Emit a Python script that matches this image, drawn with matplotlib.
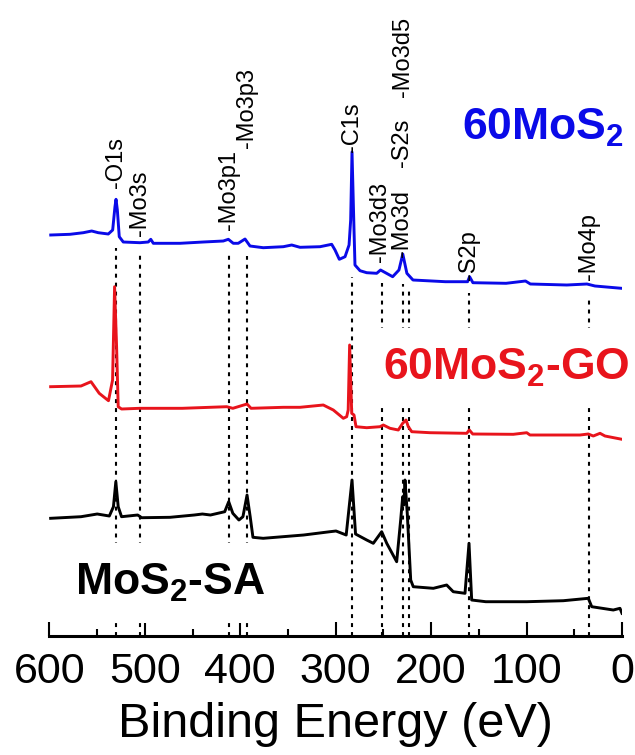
import numpy as np
import matplotlib
matplotlib.use("Agg")
import matplotlib.pyplot as plt
from matplotlib.ticker import MultipleLocator

plt.rcParams['font.family'] = ['Liberation Sans', 'DejaVu Sans']
plt.rcParams['mathtext.fontset'] = 'custom'
plt.rcParams['mathtext.rm'] = 'Liberation Sans'
plt.rcParams['mathtext.bf'] = 'Liberation Sans:bold'
plt.rcParams['mathtext.it'] = 'Liberation Sans:italic'

# ---- XPS survey spectra: binding energy (eV) and stacked intensity (a.u.) ----
be_60mos2 = [598.6, 578.4, 564.5, 555.7, 548.8, 538.3, 533.7, 531.3, 530.2, 528.8,
             526.8, 522.6, 505.1, 496.4, 493.8, 491.1, 463.1, 438.7, 417.8, 412.5,
             407.3, 402.1, 395.0, 389.8, 375.9, 354.9, 346.1, 337.4, 316.4, 304.2,
             300.7, 296.2, 290.2, 286.0, 284.3, 282.9, 280.8, 279.8, 274.5, 267.5,
             257.0, 253.0, 240.3, 233.7, 229.7, 225.4, 219.0, 185.1, 161.8, 159.7,
             156.2, 121.5, 101.1, 96.0, 57.8, 36.7, 28.3, 0.5]
int_60mos2 = [401.0, 401.7, 403.3, 405.0, 403.3, 402.0, 406.0, 429.3, 436.7, 426.0,
              399.3, 394.0, 393.3, 394.0, 396.7, 392.7, 392.7, 394.0, 395.0, 396.7,
              392.7, 392.7, 397.0, 390.0, 388.3, 389.3, 391.0, 388.7, 389.3, 391.7,
              386.0, 376.7, 379.3, 391.0, 416.0, 484.0, 406.0, 371.0, 365.3, 363.3,
              362.7, 366.0, 359.3, 366.0, 382.0, 362.7, 356.0, 354.3, 354.3, 359.3,
              353.3, 352.7, 355.0, 352.0, 351.0, 352.0, 350.0, 347.7]

be_60mos2_go = [598.7, 566.9, 556.4, 547.8, 538.1, 533.8, 531.7, 529.6, 527.9, 524.4,
                505.4, 460.8, 414.2, 407.8, 392.9, 388.7, 354.8, 337.4, 313.0, 302.5,
                292.0, 288.5, 286.9, 285.4, 283.2, 280.8, 278.7, 267.5, 253.6, 250.1,
                243.1, 234.4, 229.8, 226.3, 223.9, 220.3, 201.2, 162.7, 160.0, 156.4,
                113.9, 99.8, 96.4, 44.0, 35.3, 30.1, 23.0, 17.8, 0.0]
int_60mos2_go = [249.3, 250.0, 254.3, 242.7, 235.3, 256.0, 349.3, 289.3, 229.3, 227.0,
                 227.7, 227.7, 229.3, 227.7, 232.0, 227.7, 228.7, 228.7, 231.0, 226.0,
                 217.7, 219.3, 226.0, 291.0, 222.7, 221.0, 209.3, 208.3, 209.3, 211.0,
                 207.7, 206.0, 212.7, 216.0, 209.3, 204.3, 203.3, 202.7, 206.0, 202.0,
                 201.7, 203.3, 201.0, 201.0, 202.0, 200.0, 202.7, 200.0, 196.7]

be_mos2_sa = [598.7, 566.9, 549.9, 537.2, 532.9, 530.4, 527.9, 524.4, 507.5, 503.3,
              473.6, 448.2, 439.7, 431.2, 416.3, 412.1, 407.8, 401.4, 397.2, 392.9,
              389.6, 386.7, 376.0, 333.6, 306.0, 299.7, 289.0, 282.9, 279.2, 267.5,
              260.6, 251.8, 246.5, 236.1, 231.9, 229.8, 228.6, 227.4, 225.0, 221.4,
              218.7, 197.7, 183.7, 176.8, 164.5, 160.3, 157.5, 142.7, 99.8, 61.5,
              35.3, 31.7, 9.1, 2.1, 0.0]
int_mos2_sa = [117.7, 119.3, 122.0, 120.0, 129.3, 154.3, 129.3, 119.3, 121.0, 118.3,
               118.7, 121.0, 122.0, 121.0, 124.3, 134.3, 122.7, 116.0, 119.3, 141.0,
               119.3, 98.7, 97.7, 101.0, 104.3, 105.0, 101.0, 156.0, 102.0, 96.0,
               92.7, 104.3, 92.7, 74.3, 116.0, 139.3, 131.0, 156.0, 122.7, 56.0,
               49.3, 47.7, 51.0, 44.3, 42.7, 92.7, 36.0, 34.3, 34.3, 35.3,
               37.7, 29.3, 26.0, 27.7, 22.7]

# ---- core-level assignments ----
line_energies = [530.5, 505.5, 412.0, 393.0, 283.2, 251.5, 229.5, 223.5, 160.5, 35.0]
peak_labels = ['-O1s', '-Mo3s', '-Mo3p1', '-Mo3p3', '-C1s', '-Mo3d3', '-Mo3d',
               '-S2s', '-Mo3d5', '-S2p', '-Mo4p']
label_energies = [530.5, 505.5, 412.0, 393.0, 283.2, 253.5, 230.5, 230.5, 229.0, 160.5, 35.0]

sample_names = [r'60MoS$_\mathbf{2}$', r'60MoS$_\mathbf{2}$-GO', r'MoS$_\mathbf{2}$-SA']
colors = ['#0a0ae8', '#e8141c', '#000000']

fig = plt.figure(figsize=(6.35, 7.55), dpi=100)
ax = fig.add_axes([0.0778, 0.1576, 0.9017, 0.8424])

# dotted guide lines for each assignment, starting just under the top spectrum
fine = np.linspace(0, 600, 3001)
top_curve = np.interp(fine, be_60mos2[::-1], int_60mos2[::-1])
for e in line_energies:
    window = (fine > e - 5) & (fine < e + 5)
    y_top = top_curve[window].min() - 10
    ax.plot([e, e], [0, y_top], color='black', lw=1.5,
            ls=(0, (1.9, 2.4)), zorder=1)

# spectra
for be, inten, c in zip([be_60mos2, be_60mos2_go, be_mos2_sa],
                        [int_60mos2, int_60mos2_go, int_mos2_sa], colors):
    ax.plot(be, inten, color=c, lw=2.1, zorder=3, solid_joinstyle='round')

# peak labels (rotated), bottom ends sitting above the top spectrum
label_heights = [448, 400, 406, 488, 484, 374, 379, 469, 539, 356, 356]
for txt, e, h in zip(peak_labels, label_energies, label_heights):
    ax.text(e, h, txt, rotation=90, ha='center', va='bottom',
            fontsize=17, color='black', zorder=4)

# sample names
name_pos = [(167.6, 496), (250.5, 256), (573.0, 41)]
for i, (name, c, (xe, yi)) in enumerate(zip(sample_names, colors, name_pos)):
    kw = {}
    if i > 0:
        kw['bbox'] = dict(facecolor='white', edgecolor='none',
                          boxstyle='square,pad=0.42')
    ax.text(xe, yi, name, color=c, fontsize=32, fontweight='bold',
            ha='left', va='baseline', zorder=2.6, **kw)

ax.set_xlim(600, 0)
ax.set_ylim(0, 636)
for s in ['left', 'right', 'top']:
    ax.spines[s].set_visible(False)
ax.spines['bottom'].set_linewidth(2.2)
ax.set_yticks([])
ax.xaxis.set_major_locator(MultipleLocator(100))
ax.xaxis.set_minor_locator(MultipleLocator(50))
ax.tick_params(axis='x', which='major', direction='in', length=10, width=1.5,
               labelsize=31, pad=11.5)
ax.tick_params(axis='x', which='minor', direction='in', length=5, width=1.5)
ax.set_xlabel('Binding Energy (eV)', fontsize=35, labelpad=7)

fig.savefig('out.png', dpi=100)
